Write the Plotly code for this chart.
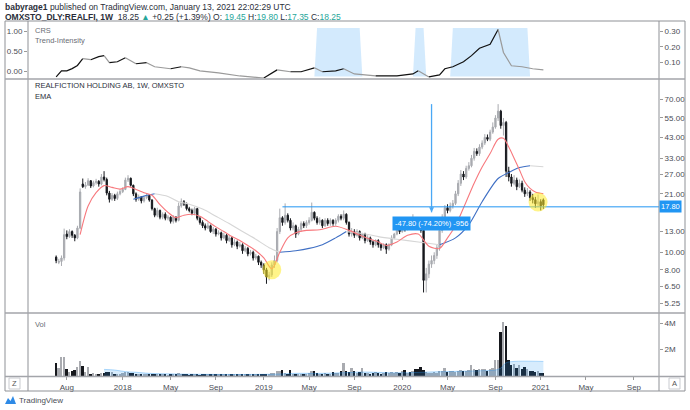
import math
import datetime as dt
import plotly.graph_objects as go

# ---------------- data ----------------
START_WEEK = "2017-07-10"

opens = [
    9.4, 8.8, 8.9, 9.3, 12.6, 12.2, 13.0, 12.4, 12.0, 13.6,
    23.8, 23.0, 23.5, 24.8, 23.2, 24.2, 24.6, 23.8, 26.0, 25.2,
    21.2, 19.6, 20.6, 19.8, 21.0, 21.6, 22.2, 25.0, 25.6, 23.4,
    21.0, 19.6, 20.2, 19.2, 20.0, 20.6, 19.4, 17.4, 16.0, 17.0,
    15.6, 16.2, 15.4, 15.6, 14.8, 15.6, 15.0, 18.0, 19.0, 18.4,
    17.4, 17.0, 16.4, 17.4, 15.4, 14.6, 14.0, 13.6, 14.0, 13.0,
    13.4, 12.6, 12.8, 12.0, 12.4, 11.6, 12.0, 11.0, 11.4, 10.8,
    11.0, 10.2, 10.5, 9.8, 10.0, 9.3, 9.5, 8.8, 8.5, 8.0,
    7.3, 7.5, 8.5, 9.0, 13.0, 15.5, 14.6, 16.0, 15.0, 13.6,
    14.0, 12.6, 13.4, 14.4, 14.0, 14.6, 15.0, 16.6, 15.4, 14.6,
    15.0, 14.0, 15.0, 14.4, 15.0, 14.4, 15.0, 15.8, 15.4, 16.2,
    14.6, 12.6, 13.0, 12.4, 13.0, 12.0, 12.6, 11.6, 12.0, 11.4,
    11.0, 11.6, 11.0, 10.6, 11.0, 10.4, 11.0, 12.0, 12.6, 13.6,
    13.0, 14.0, 13.4, 14.6, 14.0, 15.0, 14.4, 14.0, 13.2, 7.0,
    7.6, 8.6, 9.0, 9.6, 10.6, 13.2, 15.6, 17.6, 17.0, 18.0,
    18.6, 21.0, 24.0, 27.0, 26.0, 29.0, 30.0, 33.0, 36.0, 35.0,
    38.0, 40.0, 43.0, 42.0, 46.0, 49.0, 55.0, 60.0, 50.0, 52.0,
    28.0, 26.0, 24.0, 25.0, 23.0, 24.0, 22.0, 21.0, 21.5, 20.0,
    19.5, 18.5, 19.0, 19.45]

highs = [
    9.6, 9.2, 9.6, 13.5, 13.2, 13.4, 13.2, 12.6, 14.0, 22.5,
    25.5, 24.4, 25.6, 25.0, 24.8, 25.4, 25.0, 27.0, 28.0, 25.8,
    21.8, 21.2, 21.0, 21.6, 22.2, 22.8, 25.8, 26.6, 25.8, 23.6,
    21.4, 20.8, 20.4, 20.4, 21.2, 20.8, 19.6, 17.6, 17.6, 17.2,
    16.6, 16.6, 16.0, 15.8, 16.0, 15.8, 18.8, 19.8, 19.4, 18.8,
    17.8, 17.4, 17.8, 17.6, 15.8, 15.0, 14.4, 14.6, 14.2, 13.8,
    13.6, 13.2, 13.0, 12.8, 12.6, 12.4, 12.2, 11.8, 11.6, 11.4,
    11.2, 10.8, 10.7, 10.3, 10.2, 9.8, 9.6, 9.0, 8.7, 8.2,
    7.8, 8.8, 9.6, 13.6, 17.4, 15.8, 18.6, 16.4, 15.4, 14.6,
    14.2, 13.8, 14.8, 14.8, 15.0, 15.6, 18.8, 16.8, 15.8, 15.6,
    15.2, 15.4, 15.4, 15.4, 15.2, 15.4, 16.2, 16.2, 17.0, 16.4,
    14.8, 13.6, 13.4, 13.4, 13.2, 12.8, 12.8, 12.4, 12.2, 11.6,
    11.8, 11.8, 11.2, 11.2, 11.2, 11.2, 12.4, 12.8, 14.0, 13.8,
    14.4, 14.4, 15.0, 14.8, 16.2, 15.4, 14.8, 14.4, 13.6, 8.2,
    9.0, 9.6, 10.0, 11.0, 14.6, 16.2, 18.2, 18.4, 18.8, 19.4,
    21.8, 25.0, 28.4, 28.0, 30.0, 31.4, 34.4, 37.6, 37.4, 39.4,
    41.4, 44.8, 44.6, 47.4, 52.0, 57.0, 65.6, 61.0, 55.0, 53.0,
    29.6, 27.0, 26.6, 25.8, 25.2, 24.8, 22.8, 22.6, 22.0, 21.0,
    20.2, 20.8, 19.6, 19.80]

lows = [
    8.7, 8.6, 8.4, 9.0, 11.8, 12.0, 12.0, 11.5, 11.8, 13.4,
    22.6, 22.4, 23.2, 22.6, 22.8, 23.6, 23.0, 23.4, 24.6, 20.6,
    18.8, 19.2, 19.2, 19.4, 20.6, 21.2, 22.0, 24.4, 23.0, 20.4,
    19.0, 19.2, 18.6, 18.8, 19.6, 19.0, 17.0, 15.6, 15.6, 15.2,
    15.2, 15.0, 15.0, 14.4, 14.4, 14.6, 14.8, 17.6, 18.0, 17.0,
    16.6, 16.0, 16.0, 15.0, 14.2, 13.6, 13.2, 13.4, 12.8, 12.6,
    12.2, 12.4, 11.6, 11.8, 11.2, 11.4, 10.6, 10.8, 10.4, 10.6,
    9.8, 10.0, 9.5, 9.6, 9.0, 9.1, 8.5, 8.2, 7.6, 6.7,
    7.0, 7.3, 8.2, 8.8, 12.6, 14.0, 14.2, 14.6, 13.2, 13.2,
    12.0, 12.4, 13.0, 13.6, 13.6, 14.2, 14.8, 15.0, 14.2, 14.2,
    13.6, 13.8, 14.0, 14.0, 14.0, 14.0, 14.6, 15.0, 15.0, 14.2,
    12.2, 12.2, 12.0, 12.2, 11.6, 11.8, 11.2, 11.4, 11.0, 10.6,
    10.8, 10.6, 10.2, 10.4, 9.8, 10.2, 10.8, 11.8, 12.4, 12.6,
    12.8, 13.0, 13.2, 13.6, 13.8, 14.0, 13.6, 12.8, 6.0, 6.0,
    7.2, 8.2, 8.6, 9.2, 10.2, 12.8, 15.0, 16.4, 16.6, 17.4,
    18.2, 20.4, 23.2, 25.0, 25.4, 28.2, 29.4, 32.0, 34.0, 34.0,
    37.0, 39.0, 41.0, 41.0, 45.0, 48.0, 53.0, 48.0, 44.0, 26.0,
    24.6, 23.0, 23.4, 22.0, 22.6, 21.4, 20.2, 20.4, 19.2, 18.6,
    17.6, 17.8, 17.0, 17.35]

closes = [
    9.0, 8.9, 9.3, 12.5, 12.2, 13.0, 12.4, 12.0, 13.6, 21.5,
    23.0, 23.5, 24.8, 23.2, 24.2, 24.6, 23.8, 26.0, 25.2, 21.2,
    19.6, 20.6, 19.8, 21.0, 21.6, 22.2, 25.0, 25.6, 23.4, 21.0,
    19.6, 20.2, 19.2, 20.0, 20.6, 19.4, 17.4, 16.0, 17.0, 15.6,
    16.2, 15.4, 15.6, 14.8, 15.6, 15.0, 18.0, 19.0, 18.4, 17.4,
    17.0, 16.4, 17.4, 15.4, 14.6, 14.0, 13.6, 14.0, 13.0, 13.4,
    12.6, 12.8, 12.0, 12.4, 11.6, 12.0, 11.0, 11.4, 10.8, 11.0,
    10.2, 10.5, 9.8, 10.0, 9.3, 9.5, 8.8, 8.5, 8.0, 7.3,
    7.5, 8.5, 9.0, 13.0, 15.5, 14.6, 16.0, 15.0, 13.6, 14.0,
    12.6, 13.4, 14.4, 14.0, 14.6, 15.0, 16.6, 15.4, 14.6, 15.0,
    14.0, 15.0, 14.4, 15.0, 14.4, 15.0, 15.8, 15.4, 16.2, 14.6,
    12.6, 13.0, 12.4, 13.0, 12.0, 12.6, 11.6, 12.0, 11.4, 11.0,
    11.6, 11.0, 10.6, 11.0, 10.4, 11.0, 12.0, 12.6, 13.6, 13.0,
    14.0, 13.4, 14.6, 14.0, 15.0, 14.4, 14.0, 13.2, 7.0, 7.6,
    8.6, 9.0, 9.6, 10.6, 13.2, 15.6, 17.6, 17.0, 18.0, 18.6,
    21.0, 24.0, 27.0, 26.0, 29.0, 30.0, 33.0, 36.0, 35.0, 38.0,
    40.0, 43.0, 42.0, 46.0, 49.0, 55.0, 60.0, 50.0, 52.0, 28.0,
    26.0, 24.0, 25.0, 23.0, 24.0, 22.0, 21.0, 21.5, 20.0, 19.5,
    18.5, 19.0, 18.0, 18.25]

volumes_m = [
    0.95, 0.6, 1.4, 1.4, 0.55, 0.3, 0.35, 0.45, 0.7, 1.15,
    0.75, 0.3, 0.7, 0.15, 0.2, 0.12, 0.15, 0.25, 0.2, 0.3,
    0.3, 0.3, 0.12, 0.1, 0.15, 0.2, 0.3, 0.3, 0.25, 0.2,
    0.12, 0.1, 0.1, 0.12, 0.1, 0.08, 0.12, 0.1, 0.08, 0.1,
    0.08, 0.1, 0.06, 0.08, 0.1, 0.12, 0.2, 0.15, 0.1, 0.08,
    0.06, 0.08, 0.1, 0.08, 0.06, 0.1, 0.12, 0.15, 0.12, 0.1,
    0.08, 0.12, 0.1, 0.1, 0.08, 0.15, 0.1, 0.08, 0.1, 0.12,
    0.1, 0.08, 0.1, 0.12, 0.1, 0.08, 0.1, 0.12, 0.15, 0.1,
    0.12, 0.2, 0.25, 0.4, 0.35, 0.45, 0.2, 0.15, 0.45, 0.15,
    0.1, 0.12, 0.15, 0.1, 0.12, 0.2, 0.35, 0.4, 0.2, 0.15,
    0.12, 0.2, 0.15, 0.18, 0.3, 0.2, 0.25, 0.35, 0.95, 0.4,
    0.3, 0.6, 0.35, 0.25, 0.3, 0.6, 0.2, 0.25, 0.15, 0.2,
    0.3, 0.25, 0.15, 0.2, 0.3, 0.2, 0.3, 0.25, 0.3, 0.2,
    0.35, 0.45, 0.25, 0.3, 0.4, 0.5, 0.55, 0.65, 0.45, 0.3,
    0.2, 0.25, 0.3, 0.25, 0.35, 0.4, 0.6, 0.3, 0.4, 0.35,
    0.3, 0.4, 0.45, 0.35, 0.4, 0.45, 0.85, 0.5, 0.45, 0.5,
    0.55, 0.5, 0.4, 0.5, 0.6, 1.2, 1.2, 3.3, 4.1, 3.8,
    1.2, 0.8, 0.9, 0.6, 0.8, 0.5, 0.7, 0.55, 0.35, 0.4,
    0.3, 0.35, 0.2, 0.25]

# EMA readings (week index -> value)
ema10_weeks = [9, 12, 15, 18, 21, 24, 27, 30, 33, 36, 39, 42, 45, 48, 51, 54, 57, 60, 63, 66,
               69, 72, 75, 78, 81, 84, 87, 90, 94, 99, 105, 110, 116, 121, 124, 128, 132, 136,
               140, 144, 147, 150, 154, 157, 160, 163, 166, 168, 170, 172, 174, 176, 178, 180, 183]
ema10_values = [12.5, 18.0, 21.3, 23.3, 22.8, 22.3, 23.0, 22.2, 21.3, 20.6, 18.3, 16.6, 15.5, 16.0,
                16.2, 15.8, 14.8, 13.8, 13.0, 12.2, 11.6, 10.9, 10.2, 9.3, 8.1, 10.0, 12.0, 12.8,
                13.2, 13.3, 13.9, 13.2, 12.1, 11.4, 10.9, 11.4, 12.4, 12.6, 10.8, 10.5, 12.0, 14.0,
                19.0, 24.0, 29.5, 35.0, 42.0, 42.5, 38.0, 33.0, 28.5, 24.5, 22.5, 21.5, 21.0]

ema30_weeks = [29, 33, 37, 42, 46, 50, 55, 60, 65, 70, 75, 80, 84, 90, 95, 100, 105, 109,
               115, 121, 128, 136, 144, 150, 155, 160, 166, 170, 174, 178, 183]
ema30_values = [19.6, 20.4, 21.0, 20.3, 19.0, 18.4, 17.3, 15.8, 14.4, 13.0, 11.8, 10.6, 10.0,
                10.2, 10.5, 11.0, 12.0, 13.0, 12.7, 12.2, 11.8, 11.4, 11.0, 12.0, 14.2, 19.0,
                25.5, 27.5, 29.3, 30.0, 29.6]

crs_weeks = [0, 2, 4, 6, 8, 10, 13, 16, 18, 20, 23, 26, 30, 34, 37, 43, 47, 50, 54, 61, 69, 78,
             83, 88, 92, 97, 100, 105, 108, 112, 120, 128, 134, 136, 140, 144, 146, 149, 153,
             156, 159, 163, 166, 168, 171, 175, 179, 183]
crs_values = [0.007, 0.046, 0.046, 0.06, 0.08, 0.124, 0.117, 0.137, 0.143, 0.098, 0.104, 0.13,
              0.091, 0.098, 0.072, 0.059, 0.072, 0.065, 0.046, 0.033, 0.013, 0.0, 0.052, 0.04,
              0.04, 0.065, 0.04, 0.046, 0.059, 0.026, 0.013, 0.013, 0.026, 0.046, 0.007, 0.02,
              0.059, 0.072, 0.104, 0.143, 0.19, 0.215, 0.31, 0.163, 0.078, 0.072, 0.059, 0.052]

trend_zones = [(98, 114), (135, 138), (149, 177)]

volma_weeks = [18, 22, 26, 30, 35, 45, 60, 75, 84, 90, 100, 108, 115, 125, 132, 140, 150, 160,
               165, 167, 169, 172, 183]
volma_values_m = [0.5, 0.45, 0.33, 0.28, 0.2, 0.15, 0.12, 0.12, 0.15, 0.2, 0.2, 0.25, 0.3,
                  0.25, 0.25, 0.3, 0.35, 0.4, 0.45, 0.6, 1.0, 1.1, 1.1]

price_ticks = [70, 55, 43, 33, 27, 21, 13, 10, 8, 6.5, 5.25]
crs_ticks = [0.10, 0.20, 0.30]
trend_ticks = [0.0, 0.5, 1.0]
vol_ticks_m = [2, 4]
month_ticks = ["2017-08-07", "2018-01-01", "2018-05-07", "2018-09-03", "2019-01-07",
               "2019-05-06", "2019-09-02", "2020-01-06", "2020-05-04", "2020-09-07",
               "2021-01-04", "2021-05-03", "2021-09-06"]
month_labels = ["Aug", "2018", "May", "Sep", "2019", "May", "Sep", "2020", "May", "Sep",
                "2021", "May", "Sep"]

highlight_weeks = [81, 181]
highlight_prices = [8.0, 18.9]
level_price = 17.80
level_start_week = 85
measure_week = 141
measure_top = 65.6
measure_tip = 16.6
measure_label_price = 14.4
measure_label = "-47.80 (-74.20%) -956"

X_RANGE = ["2017-04-27", "2021-11-11"]

# ---------------- helpers ----------------
W, H = 690, 410
n = len(closes)
assert len(opens) == n and len(highs) == n and len(lows) == n and len(volumes_m) == n, \
    (len(opens), len(highs), len(lows), len(closes), len(volumes_m))
start = dt.date.fromisoformat(START_WEEK)
dates = [(start + dt.timedelta(days=7 * i)).isoformat() for i in range(n)]


def px(x):
    return x / W


def py(y):
    return 1 - y / H


def runs_by_direction(xs, ys):
    """Split a polyline into runs of rising / falling segments."""
    runs = []
    cur_dir = None
    cur = None
    for k in range(len(xs) - 1):
        d = ys[k + 1] >= ys[k]
        if d != cur_dir:
            if cur:
                runs.append((cur_dir, cur))
            cur = ([xs[k]], [ys[k]])
            cur_dir = d
        cur[0].append(xs[k + 1])
        cur[1].append(ys[k + 1])
    if cur:
        runs.append((cur_dir, cur))
    return runs


UP = "#a9abb0"
DOWN = "#16181d"
BLUE = "#2196f3"

fig = go.Figure()

# ---------------- CRS panel ----------------
trend_series = [1 if any(a <= i <= b for a, b in trend_zones) else 0 for i in range(n)]
fig.add_trace(go.Scatter(x=dates, y=trend_series, xaxis="x3", yaxis="y3", mode="lines",
                         line=dict(width=0, color="rgba(33,150,243,0)"), fill="tozeroy",
                         fillcolor="rgba(33,150,243,0.2)", hoverinfo="skip", showlegend=False))
fig.add_trace(go.Scatter(x=[dates[0]], y=[0.5], xaxis="x3", yaxis="y4", mode="markers",
                         marker=dict(size=1, color="rgba(0,0,0,0)"), hoverinfo="skip",
                         showlegend=False))
crs_x = [dates[i] for i in crs_weeks]
for rising, (rx, ry) in runs_by_direction(crs_x, crs_values):
    fig.add_trace(go.Scatter(x=rx, y=ry, xaxis="x3", yaxis="y5", mode="lines",
                             line=dict(width=1.2, color="#111111" if rising else "#9a9a9a"),
                             hoverinfo="skip", showlegend=False))

# ---------------- main price panel ----------------
fig.add_trace(go.Candlestick(x=dates, open=opens, high=highs, low=lows, close=closes,
                             xaxis="x2", yaxis="y2",
                             increasing=dict(line=dict(color=UP, width=1), fillcolor=UP),
                             decreasing=dict(line=dict(color=DOWN, width=1), fillcolor=DOWN),
                             whiskerwidth=0, showlegend=False, hoverinfo="skip"))

e30x = [dates[i] for i in ema30_weeks]
for rising, (rx, ry) in runs_by_direction(e30x, ema30_values):
    fig.add_trace(go.Scatter(x=rx, y=ry, xaxis="x2", yaxis="y2", mode="lines",
                             line=dict(width=1.1, color="#3f6fc4" if rising else "#d6d6d6",
                                       shape="spline", smoothing=0.8),
                             hoverinfo="skip", showlegend=False))

fig.add_trace(go.Scatter(x=[dates[i] for i in ema10_weeks], y=ema10_values, xaxis="x2",
                         yaxis="y2", mode="lines",
                         line=dict(width=1.1, color="#f7787d", shape="spline", smoothing=0.8),
                         hoverinfo="skip", showlegend=False))

fig.add_trace(go.Scatter(x=[dates[level_start_week], X_RANGE[1]], y=[level_price, level_price],
                         xaxis="x2", yaxis="y2", mode="lines",
                         line=dict(width=1, color=BLUE), hoverinfo="skip", showlegend=False))

# measure shaft
fig.add_trace(go.Scatter(x=[dates[measure_week], dates[measure_week]],
                         y=[measure_top, measure_tip], xaxis="x2", yaxis="y2", mode="lines",
                         line=dict(width=1.3, color="#4aa8f5"), hoverinfo="skip",
                         showlegend=False))

fig.add_trace(go.Scatter(x=[dates[i] for i in highlight_weeks], y=highlight_prices,
                         xaxis="x2", yaxis="y2", mode="markers",
                         marker=dict(size=19, color="rgba(255,235,40,0.55)", line=dict(width=0)),
                         hoverinfo="skip", showlegend=False))

# ---------------- volume panel ----------------
fig.add_trace(go.Scatter(x=[dates[i] for i in volma_weeks], y=[v * 1e6 for v in volma_values_m],
                         xaxis="x", yaxis="y", mode="lines",
                         line=dict(width=1, color="rgba(33,150,243,0.35)", shape="spline"),
                         fill="tozeroy", fillcolor="rgba(33,150,243,0.18)",
                         hoverinfo="skip", showlegend=False))
vol_colors = [UP if c >= o else DOWN for o, c in zip(opens, closes)]
fig.add_trace(go.Bar(x=dates, y=[v * 1e6 for v in volumes_m], xaxis="x", yaxis="y",
                     marker=dict(color=vol_colors, line=dict(width=0)),
                     width=5 * 86400000, hoverinfo="skip", showlegend=False))

# ---------------- layout ----------------
XD = [px(28), px(659)]
D_TOP = [py(78), py(22)]
D_MAIN = [py(312), py(80)]
D_VOL = [py(376), py(314)]
TICKFONT = dict(size=8, color="#4a4d55", family="Liberation Sans, Arial, sans-serif")

common_x = dict(domain=XD, showgrid=False, zeroline=False, showline=False, range=X_RANGE,
                type="date")

top_log = math.log10(70) + 19 / 181.35
bot_log = math.log10(5.25) - 9 / 181.35

fig.update_layout(
    width=W, height=H, margin=dict(l=0, r=0, t=0, b=0),
    paper_bgcolor="white", plot_bgcolor="rgba(0,0,0,0)",
    font=dict(family="Liberation Sans, Arial, sans-serif", size=8, color="#4a4d55"),
    showlegend=False, bargap=0,
    xaxis=dict(**common_x, anchor="y", tickmode="array", tickvals=month_ticks,
               ticktext=month_labels, ticks="outside", ticklen=3, tickcolor="#9a9a9a",
               tickfont=TICKFONT),
    xaxis2=dict(**common_x, anchor="y2", matches="x", showticklabels=False,
                rangeslider=dict(visible=False)),
    xaxis3=dict(**common_x, anchor="y3", matches="x", showticklabels=False),
    yaxis=dict(domain=D_VOL, anchor="x", side="right", range=[0, 4.68e6], showgrid=False,
               zeroline=False, tickmode="array", tickvals=[v * 1e6 for v in vol_ticks_m],
               ticktext=[f"{v}M" for v in vol_ticks_m], ticks="outside", ticklen=3,
               tickcolor="#9a9a9a", tickfont=TICKFONT),
    yaxis2=dict(domain=D_MAIN, anchor="x2", side="right", type="log",
                range=[bot_log, top_log], showgrid=False, zeroline=False,
                tickmode="array", tickvals=price_ticks,
                ticktext=[f"{v:.2f}" for v in price_ticks], ticks="outside", ticklen=3,
                tickcolor="#9a9a9a", tickfont=TICKFONT),
    yaxis3=dict(domain=D_TOP, anchor="x3", range=[-0.031, 1.124], visible=False),
    yaxis4=dict(overlaying="y3", anchor="x3", side="left", range=[-0.16, 1.222],
                showgrid=False, zeroline=False, tickmode="array", tickvals=trend_ticks,
                ticktext=[f"{v:.2f}" for v in trend_ticks], ticks="outside", ticklen=3,
                tickcolor="#9a9a9a", tickfont=TICKFONT),
    yaxis5=dict(overlaying="y3", anchor="x3", side="right", range=[0, 0.358],
                showgrid=False, zeroline=False, tickmode="array", tickvals=crs_ticks,
                ticktext=[f"{v:.2f}" for v in crs_ticks], ticks="outside", ticklen=3,
                tickcolor="#9a9a9a", tickfont=TICKFONT),
)

# ---------------- frames ----------------
shapes = []
FRAME = "#8f9196"
shapes.append(dict(type="rect", xref="paper", yref="paper", x0=px(5), x1=px(685),
                   y0=py(391), y1=py(21), line=dict(color=FRAME, width=1)))
for xx in (28, 659):
    shapes.append(dict(type="line", xref="paper", yref="paper", x0=px(xx), x1=px(xx),
                       y0=py(391), y1=py(21), line=dict(color=FRAME, width=1)))
for yy in (79, 313, 376.5):
    shapes.append(dict(type="line", xref="paper", yref="paper", x0=px(5), x1=px(685),
                       y0=py(yy), y1=py(yy), line=dict(color="#a3a5aa", width=1.6)))
# Z / A buttons
for cx in (14.5, 674.5):
    shapes.append(dict(type="rect", xref="paper", yref="paper", x0=px(cx - 5.5),
                       x1=px(cx + 5.5), y0=py(389), y1=py(378),
                       line=dict(color="#c9cbd0", width=1), fillcolor="white"))
# logo
shapes.append(dict(type="path", xref="paper", yref="paper",
                   path=f"M {px(5)},{py(404)} L {px(8)},{py(398)} L {px(10.5)},{py(401)} "
                        f"L {px(13)},{py(396)} L {px(16)},{py(404)} Z",
                   fillcolor="#2e8ae6", line=dict(width=0)))
fig.update_layout(shapes=shapes)

# ---------------- annotations ----------------
ann = []


def text(x, y, s, size=8, color="#3a3d45", xanchor="left"):
    ann.append(dict(xref="paper", yref="paper", x=px(x), y=py(y), text=s, showarrow=False,
                    xanchor=xanchor, yanchor="middle", font=dict(size=size, color=color)))


GREEN = "#26a69a"
text(3, 6.5, "<b>babyrage1</b> published on TradingView.com, January 13, 2021 22:02:29 UTC",
     size=8.5, color="#2a2e39")
text(3, 16.5, "<b>OMXSTO_DLY:REALFI, 1W</b>  18.25 "
     f"<span style='color:{GREEN}'>▲</span> +0.25 (+1.39%) "
     f"O: <span style='color:{GREEN}'>19.45</span> H:<span style='color:{GREEN}'>19.80</span> "
     f"L:<span style='color:{GREEN}'>17.35</span> C:<span style='color:{GREEN}'>18.25</span>",
     size=8.5, color="#2a2e39")
text(33, 31, "CRS", size=7.5, color="#6a6d75")
text(33, 41, "Trend-Intensity", size=7.5, color="#6a6d75")
text(33, 86, "REALFICTION HOLDING AB, 1W, OMXSTO", size=7.5, color="#2a2e39")
text(33, 96, "EMA", size=7.5, color="#2a2e39")
text(33, 324, "Vol", size=7.5, color="#6a6d75")
text(14.5, 383.5, "Z", size=7.5, color="#555", xanchor="center")
text(674.5, 383.5, "A", size=7.5, color="#555", xanchor="center")
text(17, 400.5, "TradingView", size=8, color="#4a4d55")

# measure arrow head
ann.append(dict(xref="x2", yref="y2", x=dates[measure_week], y=math.log10(measure_tip),
                ax=0, ay=-8, showarrow=True, arrowhead=2, arrowsize=1, arrowwidth=1,
                arrowcolor="#4aa8f5", text=""))
ann.append(dict(xref="x2", yref="y2", x=dates[measure_week], y=math.log10(measure_label_price),
                text=measure_label, showarrow=False, bgcolor=BLUE, borderpad=2,
                font=dict(size=7.5, color="white")))
# right axis price tag
ann.append(dict(xref="paper", yref="y2", x=px(659), y=math.log10(level_price),
                xanchor="left", text=f"{level_price:.2f}", showarrow=False, bgcolor=BLUE,
                borderpad=1, font=dict(size=7.5, color="white")))
fig.update_layout(annotations=ann)

fig.write_html("out.html")
